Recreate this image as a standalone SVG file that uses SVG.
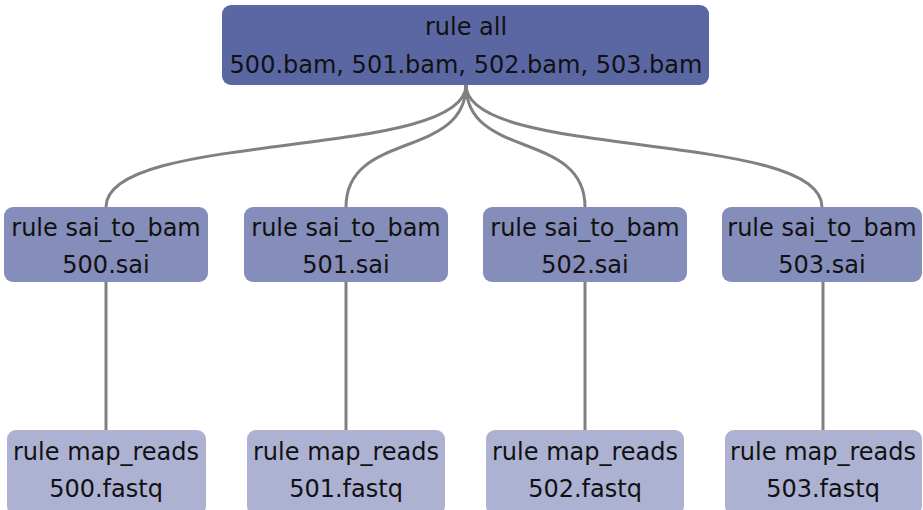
<svg xmlns="http://www.w3.org/2000/svg" width="923" height="510" viewBox="0 0 923 510">
<style>
.t{font-family:"DejaVu Sans",sans-serif;font-size:24px;fill:#111;text-anchor:middle}
.e{fill:none;stroke:#808080;stroke-width:3}
.n0{fill:#5b67a3}.n1{fill:#858dba}.n2{fill:#adb2d3}
</style>
<g id="edges">
<path class="e" d="M466,85 C466,160 106,130 106,207"/>
<path class="e" d="M466,85 C466,160 346,130 346,207"/>
<path class="e" d="M466,85 C466,160 585,130 585,207"/>
<path class="e" d="M466,85 C466,160 822,130 822,207"/>
<path class="e" d="M106,282 V430"/>
<path class="e" d="M346,282 V430"/>
<path class="e" d="M585,282 V430"/>
<path class="e" d="M823,282 V430"/>
</g>
<g id="all"><rect class="n0" x="222" y="5" width="487" height="80" rx="9"/><text class="t" x="466" y="35">rule all</text><text class="t" x="466" y="73">500.bam, 501.bam, 502.bam, 503.bam</text></g>
<g id="s500"><rect class="n1" x="4" y="207" width="204" height="75" rx="9"/><text class="t" x="106" y="236">rule sai_to_bam</text><text class="t" x="106" y="273">500.sai</text></g>
<g id="s501"><rect class="n1" x="244" y="207" width="204" height="75" rx="9"/><text class="t" x="346" y="236">rule sai_to_bam</text><text class="t" x="346" y="273">501.sai</text></g>
<g id="s502"><rect class="n1" x="483" y="207" width="204" height="75" rx="9"/><text class="t" x="585" y="236">rule sai_to_bam</text><text class="t" x="585" y="273">502.sai</text></g>
<g id="s503"><rect class="n1" x="722" y="207" width="200" height="75" rx="9"/><text class="t" x="822" y="236">rule sai_to_bam</text><text class="t" x="822" y="273">503.sai</text></g>
<g id="m500"><rect class="n2" x="7" y="430" width="199" height="85" rx="9"/><text class="t" x="106" y="460">rule map_reads</text><text class="t" x="106" y="497">500.fastq</text></g>
<g id="m501"><rect class="n2" x="247" y="430" width="198" height="85" rx="9"/><text class="t" x="346" y="460">rule map_reads</text><text class="t" x="346" y="497">501.fastq</text></g>
<g id="m502"><rect class="n2" x="486" y="430" width="198" height="85" rx="9"/><text class="t" x="585" y="460">rule map_reads</text><text class="t" x="585" y="497">502.fastq</text></g>
<g id="m503"><rect class="n2" x="725" y="430" width="197" height="85" rx="9"/><text class="t" x="823" y="460">rule map_reads</text><text class="t" x="823" y="497">503.fastq</text></g>
</svg>
